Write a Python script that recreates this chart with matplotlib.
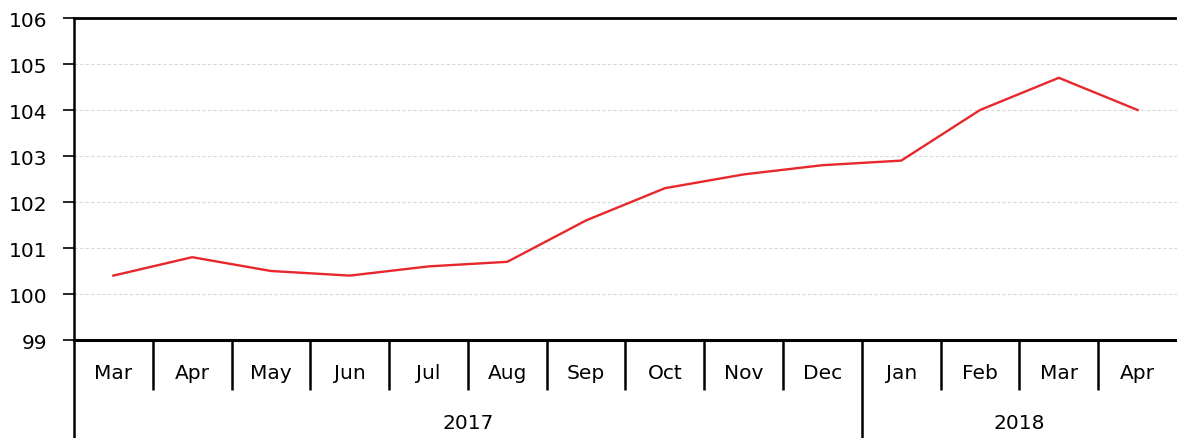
import matplotlib
matplotlib.use("Agg")
import matplotlib.pyplot as plt
import matplotlib.transforms as mtransforms

months = ["Mar", "Apr", "May", "Jun", "Jul", "Aug", "Sep", "Oct", "Nov", "Dec",
          "Jan", "Feb", "Mar", "Apr"]
years = ["2017", "2018"]
year_counts = [10, 4]
values = [100.4, 100.8, 100.5, 100.4, 100.6, 100.7, 101.6, 102.3, 102.6, 102.8,
          102.9, 104.0, 104.7, 104.0]
yticks = [99, 100, 101, 102, 103, 104, 105, 106]

plt.rcParams['font.family'] = ['DejaVu Sans']

W, H = 1177, 439
fig = plt.figure(figsize=(W / 100, H / 100), dpi=100)
ax = fig.add_axes([74 / W, 1 - 341 / H, 1 - 74 / W, (341 - 19) / H])

x = list(range(len(months)))
ax.plot(x, values, color="#e8272d", lw=1.7, zorder=3)

ax.set_xlim(-0.5, len(months) - 0.5)
ax.set_ylim(99, 106)
ax.set_yticks(yticks)
ax.set_yticklabels([str(v) for v in yticks], fontsize=14.5)
ax.tick_params(axis="y", length=8, width=1.2, pad=11, colors="black")
ax.set_xticks([])

for v in yticks[1:-1]:
    ax.axhline(v, color="#d8d8d8", lw=0.8, ls=(0, (3, 2)), zorder=1)

ax.spines["right"].set_visible(False)
ax.spines["top"].set_linewidth(2)
ax.spines["bottom"].set_linewidth(2.2)
ax.spines["left"].set_linewidth(1.8)

trans = mtransforms.blended_transform_factory(ax.transData, ax.transAxes)
axh = 341 - 19
month_bottom = -(391 - 341) / axh
year_bottom = -(439 - 341) / axh
month_y = -(374 - 341) / axh
year_y = -(424 - 341) / axh

for i, m in enumerate(months):
    ax.text(i, month_y, m, transform=trans, ha="center", va="center", fontsize=14.5)

boundaries = set()
pos = -0.5
for c in year_counts:
    boundaries.add(pos)
    pos += c
for i in range(len(months)):
    b = i - 0.5
    yb = year_bottom if b in boundaries else month_bottom
    ax.plot([b, b], [0, yb], transform=trans, color="black", lw=1.8,
            clip_on=False, solid_capstyle="butt")

pos = -0.5
for yname, c in zip(years, year_counts):
    ax.text(pos + c / 2, year_y, yname, transform=trans, ha="center", va="center",
            fontsize=14.5)
    pos += c

fig.savefig("out.png", dpi=100)
